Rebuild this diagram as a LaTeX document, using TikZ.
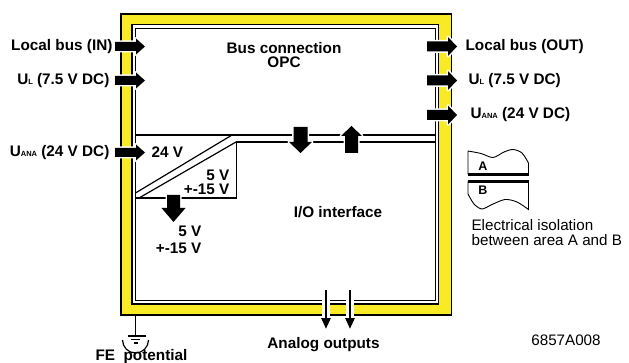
\documentclass[tikz,border=0pt]{standalone}
\usepackage{fontspec}
\setmainfont{Liberation Sans}
\usetikzlibrary{arrows.meta}
\definecolor{bandyellow}{RGB}{248,234,36}
\newcommand{\usub}[1]{{\fontsize{7.5}{7.5}\selectfont #1}}
\tikzset{
pics/blockarrow/.style args={#1/#2/#3/#4}{code={%length/shaft/head/headlength
\fill[black,preaction={draw=white,line width=3pt,line join=round}] (0,-#2) -- ({#1-#4},-#2) -- ({#1-#4},-#3) -- (#1,0) -- ({#1-#4},#3) -- ({#1-#4},#2) -- (0,#2) -- cycle;
}}}
\begin{document}
\begin{tikzpicture}[x=1pt,y=-1pt,line width=1.2pt,
lbl/.style={font=\fontsize{15.3}{14}\selectfont\bfseries,inner sep=0pt},
note/.style={font=\fontsize{15.2}{15}\selectfont,inner sep=0pt,align=left},
outarrow/.style={line width=2.5pt,-{Triangle[width=9pt,length=11pt]}}]
\useasboundingbox (0,0) rectangle (629,363);
%housing
\filldraw[fill=bandyellow,line width=1.5pt] (121,14) rectangle (451.5,315);
\filldraw[fill=white] (132,24.5) rectangle (438.5,304);
%areas
\draw (135.5,300.5) -- (135.5,28.5) -- (435.5,28.5) -- (435.5,300.5) -- cycle;
\draw (135.5,135) -- (435.5,135);
\draw (236,142) -- (435.5,142);
\draw (232,135) -- (135.5,193);
\draw (236,142) -- (139,198);
\draw (236.5,142) -- (236.5,198) -- (135.5,198);
%block arrows
\pic (ainbus) at (115,46.5) {blockarrow=30/4.5/8/9};%1
\pic (ainul) at (115,80.5) {blockarrow=30/4.5/8/9};%2
\pic (ainana) at (115,152.5) {blockarrow=30/4.5/8/9};%3
\pic (aoutbus) at (427,46.5) {blockarrow=30/5/9.5/9};%4
\pic (aoutul) at (427,80.5) {blockarrow=30/5/9.5/9};%5
\pic (aoutana) at (427,115) {blockarrow=30/5/9.5/9};%6
\pic[rotate=-90] (adown) at (300.5,127) {blockarrow=26/7/11.5/11};%7
\pic[rotate=90] (aup) at (351.5,153) {blockarrow=27/6.5/10.5/10};%8
\pic[rotate=-90] (aconv) at (173.5,195) {blockarrow=27/6.5/12/14};%9
%analog outputs
\coordinate (ao1) at (326,290);
\coordinate (ao1e) at (326,329);
\coordinate (ao2) at (350,290);
\coordinate (ao2e) at (350,329);
\draw[white,line width=7.5pt] (326,293) -- (326,318) (350,293) -- (350,318);
\draw[outarrow] (ao1) -- (ao1e);
\draw[outarrow] (ao2) -- (ao2e);
%FE
\coordinate (fe) at (135.5,315);
\coordinate (fegnd) at (135.5,336);
\draw (fe) -- (fegnd);
\draw (122.5,340) arc[start angle=180,end angle=0,radius=13];
\draw (127.5,336) -- (145.5,336) (131,339.5) -- (140,339.5) (133.5,343) -- (137.5,343);
%isolation symbol
\draw[line width=0.9pt] (468,174.5) -- (468,151) plot[smooth] coordinates {(468,151) (481,153.5) (493,157.5) (504,152) (513,149.5) (522,153) (528.5,163)} -- (528.5,174.5);
\draw[line width=2.6pt] (467.5,174.5) -- (529,174.5);
\draw[line width=2.6pt] (467.5,181.5) -- (529,181.5);
\draw[line width=0.9pt] (468,181.5) -- (468,194) plot[smooth] coordinates {(468,194) (474,204) (482,209) (492,204.5) (505,199.5) (517,202) (528.5,209.5)} -- (528.5,181.5);
\begin{scope}[every node/.style={lbl}]
\node[anchor=east] (inbus) at (113,46.5) {Local bus (IN)};
\node[anchor=east] (inul) at (110,80.5) {U\usub{L} (7.5 V DC)};
\node[anchor=east] (inana) at (110,152.5) {U\usub{ANA} (24 V DC)};
\node[anchor=west] (outbus) at (465,46.5) {Local bus (OUT)};
\node[anchor=west] (outul) at (468,80.5) {U\usub{L} (7.5 V DC)};
\node[anchor=west] (outana) at (470,115) {U\usub{ANA} (24 V DC)};
\node[align=center] (opc) at (284,55) {Bus connection\\OPC};
\node[anchor=west] (v24) at (151,152.5) {24 V};
\node[align=right,anchor=east] (conv) at (230,182) {5 V\\+-15 V};
\node[align=right,anchor=east] (supply) at (202,239.5) {5 V\\[3pt]+-15 V};
\node (io) at (338,212) {I/O interface};
\node (aout) at (323.5,345) {Analog outputs};
\node (felbl) at (141.5,357) {FE\ \ potential};
\node[font=\fontsize{12.5}{12}\selectfont\bfseries] (la) at (483,166) {A};
\node[font=\fontsize{12.5}{12}\selectfont\bfseries] (lb) at (483,190) {B};
\end{scope}
\node[note,anchor=west] (iso) at (471,233) {Electrical isolation\\between area A and B};
\node[note] (docno) at (566,340) {6857A008};
\end{tikzpicture}
\end{document}
